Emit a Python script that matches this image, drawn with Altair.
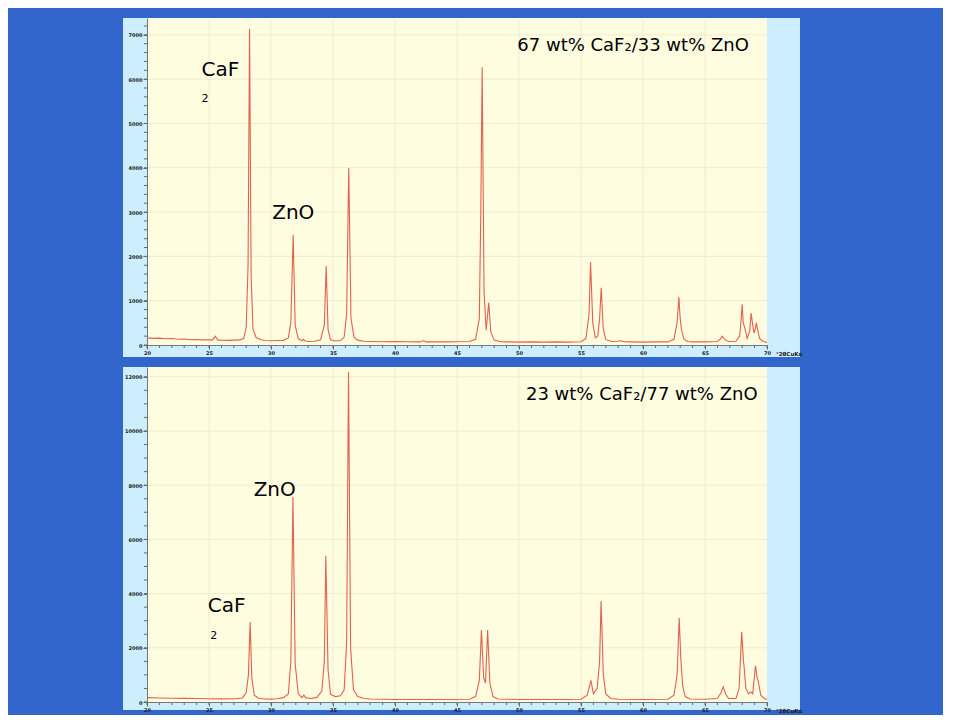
import altair as alt
import pandas as pd

# ---------------- data ----------------
two_theta_a = [20.0, 20.5, 21.0, 21.5, 22.0, 22.5, 23.0, 23.5, 24.0, 24.5, 25.0, 25.3, 25.5, 25.7, 26.0, 26.5,
               27.0, 27.5, 27.8, 28.0, 28.15, 28.27, 28.4, 28.55, 28.8, 29.2, 29.5, 30.0, 30.5, 31.0, 31.4,
               31.6, 31.79, 31.95, 32.2, 32.5, 32.6, 32.75, 33.0, 33.5, 34.0, 34.3, 34.45, 34.6, 34.8, 35.2,
               35.6, 35.9, 36.1, 36.27, 36.45, 36.7, 37.0, 37.5, 38.0, 39.0, 40.0, 41.0, 42.0, 42.3, 42.5,
               43.0, 44.0, 45.0, 46.0, 46.5, 46.8, 46.92, 47.03, 47.18, 47.35, 47.56, 47.72, 48.0, 48.5,
               49.0, 50.0, 51.0, 52.0, 53.0, 54.0, 55.0, 55.4, 55.65, 55.77, 55.95, 56.15, 56.35, 56.5,
               56.63, 56.8, 57.0, 57.5, 58.0, 58.2, 58.5, 59.0, 60.0, 61.0, 62.0, 62.5, 62.75, 62.89, 63.0,
               63.1, 63.3, 63.6, 64.0, 65.0, 66.0, 66.25, 66.39, 66.6, 66.9, 67.5, 67.8, 67.92, 68.0, 68.08,
               68.2, 68.4, 68.6, 68.72, 68.85, 68.95, 69.05, 69.13, 69.25, 69.4, 69.7, 70.0]
counts_a = [160, 150, 155, 140, 145, 130, 135, 120, 125, 115, 120, 115, 200, 115, 110, 105,
            110, 115, 150, 400, 1800, 7130, 1500, 350, 170, 120, 100, 95, 100, 105, 160,
            500, 2480, 450, 140, 95, 130, 90, 80, 85, 120, 450, 1780, 350, 120, 90,
            100, 180, 700, 4000, 600, 170, 110, 85, 80, 75, 80, 75, 70, 100, 70,
            75, 70, 75, 80, 130, 600, 3000, 6270, 1200, 340, 950, 300, 110, 75,
            70, 65, 70, 65, 70, 65, 75, 150, 700, 1870, 500, 160, 200, 600,
            1290, 350, 120, 80, 85, 95, 75, 70, 65, 70, 70, 130, 500, 1080, 600,
            350, 130, 80, 70, 70, 80, 140, 200, 120, 80, 85, 200, 600, 920, 500,
            400, 150, 300, 720, 450, 270, 350, 500, 340, 150, 80, 60]

two_theta_b = [20.0, 21.0, 22.0, 23.0, 24.0, 25.0, 26.0, 27.0, 27.7, 28.0, 28.18, 28.32, 28.45, 28.65,
               29.0, 29.5, 30.0, 30.5, 31.0, 31.4, 31.6, 31.77, 31.95, 32.2, 32.5, 32.65, 32.8, 33.2,
               33.7, 34.1, 34.3, 34.42, 34.6, 34.8, 35.2, 35.6, 35.9, 36.1, 36.25, 36.42, 36.65, 37.0,
               37.5, 38.0, 39.0, 40.0, 42.0, 44.0, 46.0, 46.5, 46.8, 46.97, 47.15, 47.3, 47.47, 47.65,
               47.9, 48.3, 50.0, 52.0, 54.0, 55.0, 55.5, 55.8, 56.0, 56.3, 56.5, 56.62, 56.8, 57.0,
               57.4, 58.0, 60.0, 62.0, 62.5, 62.75, 62.92, 63.05, 63.2, 63.4, 63.8, 65.0, 66.0, 66.3,
               66.47, 66.65, 66.9, 67.5, 67.75, 67.96, 68.1, 68.14, 68.3, 68.5, 68.7, 68.85, 69.07,
               69.2, 69.3, 69.5, 69.8, 70.0]
counts_b = [160, 150, 140, 135, 130, 120, 115, 120, 150, 350, 1000, 2950, 900, 250,
            140, 110, 105, 120, 160, 300, 1500, 7560, 1400, 300, 160, 250, 160, 130,
            170, 400, 1500, 5390, 1200, 280, 200, 230, 450, 2200, 12180, 2000, 450, 200,
            130, 110, 100, 95, 90, 90, 100, 200, 800, 2660, 900, 700, 2660, 700,
            200, 110, 95, 90, 90, 100, 250, 800, 300, 500, 1500, 3730, 1000, 300,
            130, 100, 95, 100, 250, 1000, 3100, 1600, 600, 200, 110, 100, 130, 350,
            565, 300, 130, 130, 500, 2580, 1500, 1370, 500, 300, 370, 300, 1340,
            900, 750, 250, 120, 100]

# annotations (text, 2-theta, counts, font size)
notes_a_text = ["CaF", "2", "ZnO"]
notes_a_x = [24.4, 24.4, 30.1]
notes_a_y = [6210, 5550, 2980]
notes_a_size = [20, 11, 20]
title_a = "67 wt% CaF\u2082/33 wt% ZnO"
title_a_x = 59.2
title_a_y = 6750

notes_b_text = ["ZnO", "CaF", "2"]
notes_b_x = [28.6, 24.9, 25.1]
notes_b_y = [7820, 3540, 2440]
notes_b_size = [20, 20, 11]
title_b = "23 wt% CaF\u2082/77 wt% ZnO"
title_b_x = 59.9
title_b_y = 11330

x_labels = [20, 25, 30, 35, 40, 45, 50, 55, 60, 65, 70]
y_labels_a = [0, 1000, 2000, 3000, 4000, 5000, 6000, 7000]
y_labels_b = [0, 2000, 4000, 6000, 8000, 10000, 12000]

FONT = "DejaVu Sans"
LINE = "#E5604F"
FRAME = "#CCEEFF"
PLOT = "#FFFDE0"
BG = "#3366CC"
GRID = "#EEEBD2"


def panel(tt, cc, ymax, ylabels, yminor_step, W, H, fl, fb, nt, nx, ny, ns, title, tx, ty):
    xs = alt.X("t:Q", scale=alt.Scale(domain=[20, 70], nice=False, zero=False),
               axis=alt.Axis(values=x_labels, title=None, grid=False, labelFlush=False,
                             labelOverlap=False, format="d", zindex=1))
    ys = alt.Y("c:Q", scale=alt.Scale(domain=[0, ymax], nice=False),
               axis=alt.Axis(values=ylabels, title=None, grid=False, labelOverlap=False,
                             format="d", zindex=1))
    one = pd.DataFrame({"k": [0]})
    frame = alt.Chart(one).mark_rect(color=FRAME).encode(
        x=alt.value(fl), x2=alt.value(W + 33), y=alt.value(0), y2=alt.value(H + fb))
    plot = alt.Chart(one).mark_rect(color=PLOT).encode(
        x=alt.value(0), x2=alt.value(W), y=alt.value(0), y2=alt.value(H))
    vgrid = alt.Chart(pd.DataFrame({"t": x_labels[1:-1]})).mark_rule(color=GRID, strokeWidth=1).encode(
        x=xs, y=alt.value(1), y2=alt.value(H))
    hgrid = alt.Chart(pd.DataFrame({"c": ylabels[1:]})).mark_rule(color=GRID, strokeWidth=1).encode(
        y=ys, x=alt.value(0), x2=alt.value(W))
    df = pd.DataFrame({"t": tt, "c": cc})
    line = alt.Chart(df).mark_line(color=LINE, strokeWidth=1.1, clip=True).encode(x=xs, y=ys)
    xminor = pd.DataFrame({"t": list(range(20, 71))})
    xt = alt.Chart(xminor).mark_rule(color="#666", strokeWidth=1).encode(
        x=xs, y=alt.value(H), y2=alt.value(H + 3))
    yminor = pd.DataFrame({"c": list(range(0, int(ymax) + 1, yminor_step))})
    yt = alt.Chart(yminor).mark_rule(color="#666", strokeWidth=1).encode(
        y=ys, x=alt.value(-3), x2=alt.value(0))
    ndf = pd.DataFrame({"t": nx, "c": ny, "s": nt, "fs": ns})
    notes = alt.Chart(ndf).mark_text(align="left", baseline="middle", font=FONT, color="black").encode(
        x=xs, y=ys, text="s:N", size=alt.Size("fs:Q", scale=None, legend=None))
    tdf = pd.DataFrame({"t": [tx], "c": [ty], "s": [title]})
    ttl = alt.Chart(tdf).mark_text(align="center", baseline="middle", font=FONT, fontSize=18,
                                   color="black").encode(x=xs, y=ys, text="s:N")
    unit = alt.Chart(one).mark_text(align="left", baseline="middle", font=FONT, fontSize=5.5,
                                    fontWeight="bold", color="#222", text="\u00b02\u03b8CuK\u03b1").encode(
        x=alt.value(W + 9), y=alt.value(H + 9))
    return alt.layer(frame, plot, vgrid, hgrid, line, xt, yt, notes, ttl, unit).properties(width=W, height=H)


p1 = panel(two_theta_a, counts_a, 7380, y_labels_a, 200, 620, 327, -24, 12,
           notes_a_text, notes_a_x, notes_a_y, notes_a_size, title_a, title_a_x, title_a_y)
p2 = panel(two_theta_b, counts_b, 12360, y_labels_b, 500, 620, 335, -24, 8,
           notes_b_text, notes_b_x, notes_b_y, notes_b_size, title_b, title_b_x, title_b_y)

chart = alt.vconcat(p1, p2, spacing=9).properties(
    background=BG,
    padding={"left": 115, "top": 10, "right": 140, "bottom": 0},
).configure_view(stroke=None).configure_axis(
    labelFont=FONT, labelFontSize=5, labelFontWeight="bold", labelColor="#222",
    tickColor="#666", tickSize=4, domainColor="#777", labelPadding=1,
)

chart.save("out.html", embed_options={"renderer": "svg", "actions": False})
